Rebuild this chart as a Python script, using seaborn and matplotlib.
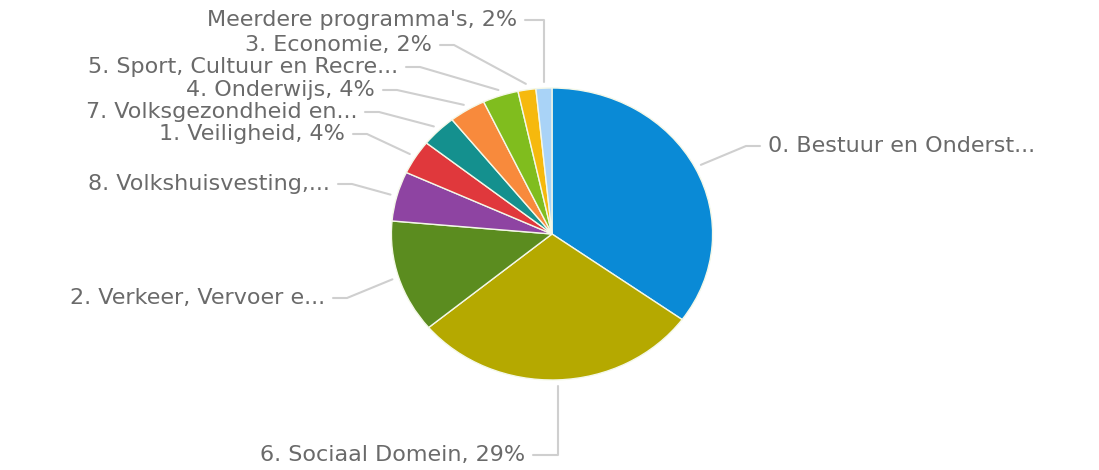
import numpy as np
import matplotlib
matplotlib.use("Agg")
import matplotlib.pyplot as plt
import seaborn as sns

# ---- data (clockwise from top) ----
labels = [
    "0. Bestuur en Onderst...",
    "6. Sociaal Domein, 29%",
    "2. Verkeer, Vervoer e...",
    "8. Volkshuisvesting,...",
    "1. Veiligheid, 4%",
    "7. Volksgezondheid en...",
    "4. Onderwijs, 4%",
    "5. Sport, Cultuur en Recre...",
    "3. Economie, 2%",
    "Meerdere programma's, 2%",
]
shares = [35.0, 29.0, 12.5, 5.5, 3.8, 3.6, 3.7, 3.6, 1.8, 1.6]
colors = ["#0a8ad6", "#b5a900", "#5b8c1f", "#8e44a2", "#e0383c",
          "#14908e", "#f88a3c", "#80bd1e", "#f6b90d", "#a9d3f7"]

# label anchor positions in pixels (x = text end for left labels / start for right), y from top
label_x = [768, 525, 325, 330, 345, 357, 375, 398, 432, 517]
label_y = [146, 455, 298, 184, 134, 112, 90, 67, 45, 20]

W, H = 1099, 470
SX = 1.1  # horizontal stretch of the reference

sns.set_theme(style="white")
plt.rcParams['font.family'] = ['DejaVu Sans']

fig = plt.figure(figsize=(W / 100, H / 100), dpi=100)
ax = fig.add_axes([0, 0, 1, 1])

cx_px, cy_px, r = 552, 234, 146
cx, cy = cx_px / SX, H - cy_px

wedges, _ = ax.pie(shares, colors=colors, startangle=90, counterclock=False,
                   center=(cx, cy), radius=r, frame=True,
                   wedgeprops=dict(edgecolor="#f4f8e8", linewidth=1.0))
ax.set_xlim(0, W / SX)
ax.set_ylim(0, H)
ax.set_aspect('auto')
ax.axis('off')

total = sum(shares)
cum = np.cumsum([0] + shares[:-1])
txt_color = "#6a6a6a"
line_color = "#cfcfcf"
for i, (lab, v) in enumerate(zip(labels, shares)):
    mid = (cum[i] + v / 2) / total * 2 * np.pi  # clockwise from top
    ex_px = cx_px + (r + 6) * SX * np.sin(mid)
    ey_px = cy_px - (r + 6) * np.cos(mid)
    lx, ly = label_x[i], label_y[i]
    if i == 0:
        p0 = lx - 8
        elbow = p0 - 14
        ax.text(lx / SX, H - ly, lab, ha='left', va='center', fontsize=16, color=txt_color)
    else:
        p0 = lx + 8
        if abs(ex_px - p0) < 45:
            elbow = ex_px
        else:
            elbow = p0 + 14
        ax.text(lx / SX, H - ly, lab, ha='right', va='center', fontsize=16, color=txt_color)
    xs = [p0, elbow, ex_px]
    ys = [ly, ly, ey_px]
    ax.plot(np.array(xs) / SX, H - np.array(ys), color=line_color, lw=1.5,
            solid_capstyle='round', zorder=0)

fig.savefig("out.png", dpi=100, facecolor="white")
